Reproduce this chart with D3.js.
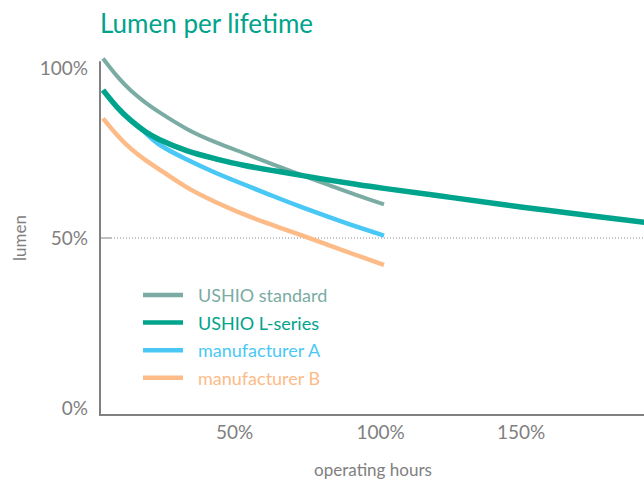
<!DOCTYPE html>
<html>
<head>
<meta charset="utf-8">
<script src="https://cdn.jsdelivr.net/npm/d3@7"></script>
<style>
  body { margin: 0; background: #fff; }
  text { font-family: Lato, "Open Sans", sans-serif; }
</style>
</head>
<body>
<div id="chart"></div>
<script>
// lumen maintenance, % of rated lifetime
var hours = [0, 5, 10, 15, 20, 30, 40, 50, 60, 70, 80, 90, 100];
var hoursLong = [0, 5, 10, 15, 20, 30, 40, 50, 60, 70, 80, 90, 100, 125, 150, 175, 195];
var ushioStandard = [102.8, 97.6, 93.3, 89.9, 87.0, 82.0, 78.2, 75.0, 71.8, 68.7, 65.7, 62.7, 59.9];
var ushioL = [93.5, 88.5, 84.5, 81.3, 79.0, 75.6, 73.3, 71.4, 69.9, 68.5, 67.1, 65.8, 64.6, 61.8, 59.0, 56.4, 54.4];
var manufA = [93.5, 88.5, 84.5, 81.0, 77.5, 73.0, 69.2, 65.8, 62.5, 59.3, 56.3, 53.4, 50.7];
var manufB = [85.2, 80.3, 76.2, 73.0, 70.2, 64.8, 60.6, 57.0, 53.9, 51.0, 48.0, 45.0, 42.1];
var seriesNames = ["USHIO standard", "USHIO L-series", "manufacturer A", "manufacturer B"];
var xTicks = [50, 100, 150];
var yTicks = [0, 50, 100];

var svgWidth = 644;
var svgHeight = 481;

var svg = d3.select("#chart")
  .append("svg")
  .attr("width", svgWidth)
  .attr("height", svgHeight);

// scales
var x = d3.scaleLinear().domain([0, 100]).range([103, 384]);
var y = d3.scaleLinear().domain([0, 100]).range([408, 68]);

var colors = {
  "USHIO standard": "#7aaca3",
  "USHIO L-series": "#00a38c",
  "manufacturer A": "#4ac8f5",
  "manufacturer B": "#fdbb88"
};
var widths = {
  "USHIO standard": 4,
  "USHIO L-series": 5.5,
  "manufacturer A": 4.5,
  "manufacturer B": 4.5
};

// title
svg.append("text")
  .attr("x", 100)
  .attr("y", 33)
  .attr("font-size", "26px")
  .attr("fill", "#00a38c")
  .text("Lumen per lifetime");

// 50% reference line
svg.append("line")
  .attr("x1", 100).attr("x2", 111)
  .attr("y1", y(50)).attr("y2", y(50))
  .attr("stroke", "#808080")
  .attr("stroke-width", 1);
svg.append("line")
  .attr("x1", 111).attr("x2", svgWidth)
  .attr("y1", y(50)).attr("y2", y(50))
  .attr("stroke", "#8a8a8a")
  .attr("stroke-width", 1)
  .attr("stroke-dasharray", "1,2");

// axes
var leftAxis = d3.axisLeft(y).tickValues(yTicks).tickSize(0).tickPadding(12)
  .tickFormat(d => d + "%");
var gy = svg.append("g")
  .attr("transform", "translate(100,0)")
  .call(leftAxis);
gy.select(".domain").remove();
gy.selectAll("text")
  .attr("font-size", "19px")
  .attr("font-family", "Lato, sans-serif")
  .attr("fill", "#808080");

var bottomAxis = d3.axisBottom(x).tickValues(xTicks).tickSize(0).tickPadding(11)
  .tickFormat(d => d + "%");
var gx = svg.append("g")
  .attr("transform", "translate(0,415)")
  .call(bottomAxis);
gx.select(".domain").remove();
gx.selectAll("text")
  .attr("font-size", "19px")
  .attr("font-family", "Lato, sans-serif")
  .attr("fill", "#808080")
  .attr("text-anchor", "start")
  .attr("x", -28);

// axis lines
svg.append("line")
  .attr("x1", 100).attr("x2", 100)
  .attr("y1", y(102)).attr("y2", 416)
  .attr("stroke", "#808080")
  .attr("stroke-width", 2);
svg.append("line")
  .attr("x1", 99).attr("x2", svgWidth)
  .attr("y1", 415).attr("y2", 415)
  .attr("stroke", "#808080")
  .attr("stroke-width", 2);

// axis titles
svg.append("text")
  .attr("transform", `translate(26, ${y(50)}) rotate(-90)`)
  .attr("text-anchor", "middle")
  .attr("font-size", "17px")
  .attr("fill", "#808080")
  .text("lumen");
svg.append("text")
  .attr("x", 373)
  .attr("y", 476)
  .attr("text-anchor", "middle")
  .attr("font-size", "17px")
  .attr("fill", "#808080")
  .text("operating hours");

// lines
var line = d3.line()
  .x(d => x(d[0]))
  .y(d => y(d[1]))
  .curve(d3.curveNatural);

var drawData = [
  {name: "manufacturer B", xs: hours, ys: manufB},
  {name: "manufacturer A", xs: hours, ys: manufA},
  {name: "USHIO standard", xs: hours, ys: ushioStandard},
  {name: "USHIO L-series", xs: hoursLong, ys: ushioL}
];

svg.append("g")
  .selectAll("path")
  .data(drawData)
  .enter()
  .append("path")
  .attr("d", d => line(d.xs.map((h, i) => [h, d.ys[i]])))
  .attr("fill", "none")
  .attr("stroke", d => colors[d.name])
  .attr("stroke-width", d => widths[d.name]);

// legend
var legend = svg.append("g")
  .selectAll("g")
  .data(seriesNames)
  .enter()
  .append("g")
  .attr("transform", (d, i) => `translate(143, ${295 + i * 27.6})`);
legend.append("line")
  .attr("x1", 0).attr("x2", 40)
  .attr("y1", 0).attr("y2", 0)
  .attr("stroke", d => colors[d])
  .attr("stroke-width", 4.5);
legend.append("text")
  .attr("x", 55)
  .attr("y", 7)
  .attr("font-size", "18px")
  .attr("fill", d => colors[d])
  .text(d => d);
</script>
</body>
</html>
